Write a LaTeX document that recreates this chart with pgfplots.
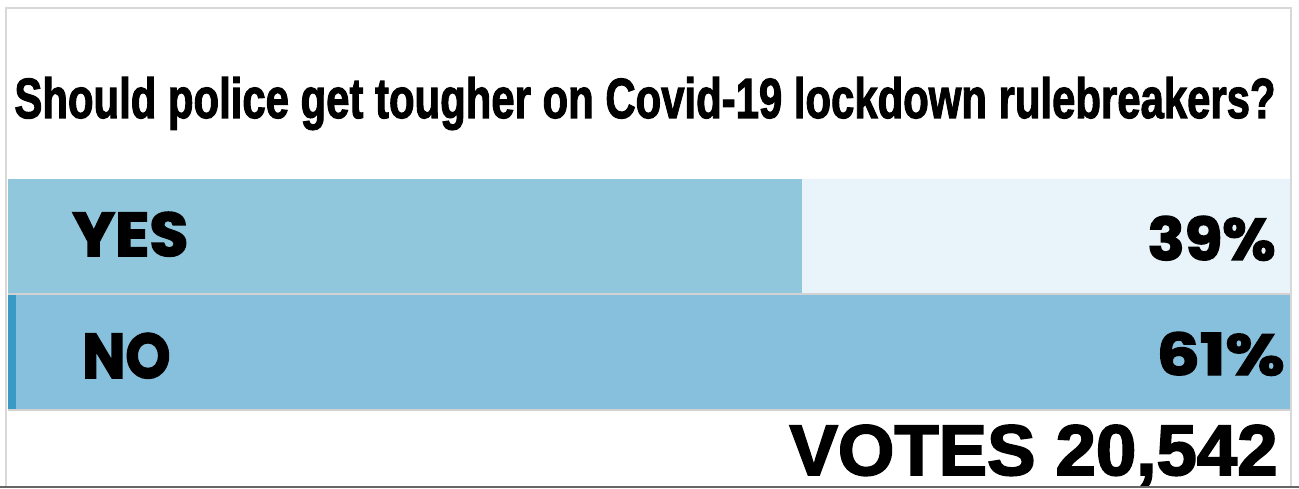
\documentclass[border=0pt]{standalone}
\usepackage{pgfplots}
\pgfplotsset{compat=1.18}
\usepackage{graphicx}
\usepackage{fontspec}
\setmainfont{Liberation Sans}
\newfontfamily\titlefont{Liberation Sans Bold}[FakeBold=2.2]
\newfontfamily\votesfont{Liberation Sans Bold}[FakeBold=2.5]
\newfontfamily\pop{Poppins Bold}[FakeBold=2.5]
\definecolor{yesbar}{HTML}{90C7DC}
\definecolor{yesbg}{HTML}{E8F4FA}
\definecolor{nobar}{HTML}{87C0DC}
\definecolor{nostrip}{HTML}{3A9AC6}
\definecolor{sep}{HTML}{D2D2D2}
\definecolor{frame}{HTML}{D8D8D8}
\begin{document}
\begin{tikzpicture}
\path[use as bounding box] (0,0) rectangle (649.5pt,244pt);
\fill[white] (0,0) rectangle (649.5pt,244pt);
\draw[frame, line width=1pt] (3pt,0) -- (3pt,240pt) -- (645.5pt,240pt) -- (645.5pt,0);
\begin{axis}[
  at={(4pt,39pt)}, anchor=south west,
  width=641pt, height=116pt, scale only axis,
  hide axis, clip=false,
  xmin=0, xmax=100, ymin=-0.5, ymax=1.5,
  xbar, bar width=0.985, bar shift=0pt,
]
\addplot[fill=yesbg, draw=none] coordinates {(100,1)};
\addplot[fill=yesbar, draw=none] coordinates {(61.9,1)};
\addplot[fill=nobar, draw=none] coordinates {(100,0)};
\draw[sep, line width=1.2pt] (axis cs:0,0.5) -- (axis cs:100,0.5);
\draw[sep, line width=1.2pt] (axis cs:0,-0.5) -- (axis cs:100,-0.5);
\fill[nostrip] (axis cs:0,-0.49) rectangle (axis cs:0.62,0.49);
\end{axis}
\node[anchor=base, inner sep=0] at (322.5pt,185pt) {\resizebox{630.5pt}{20.5pt}{\titlefont Should police get tougher on Covid-19 lockdown rulebreakers?}};
\node[anchor=base west, inner sep=0] at (36pt,116pt) {\resizebox{58pt}{22pt}{\pop YES}};
\node[anchor=base west, inner sep=0] at (41pt,55pt) {\resizebox{44pt}{22.5pt}{\pop NO}};
\node[anchor=base east, inner sep=0] at (638pt,114pt) {\resizebox{64pt}{22pt}{\pop 39\%}};
\node[anchor=base east, inner sep=0] at (642.5pt,56.5pt) {\resizebox{64pt}{21.5pt}{\pop 61\%}};
\node[anchor=base east, inner sep=0] at (639pt,6.5pt) {\resizebox{244pt}{25pt}{\votesfont VOTES 20,542}};
\draw[gray!80!black, line width=1.2pt] (0,0.6pt) -- (649.5pt,0.6pt);
\end{tikzpicture}
\end{document}
